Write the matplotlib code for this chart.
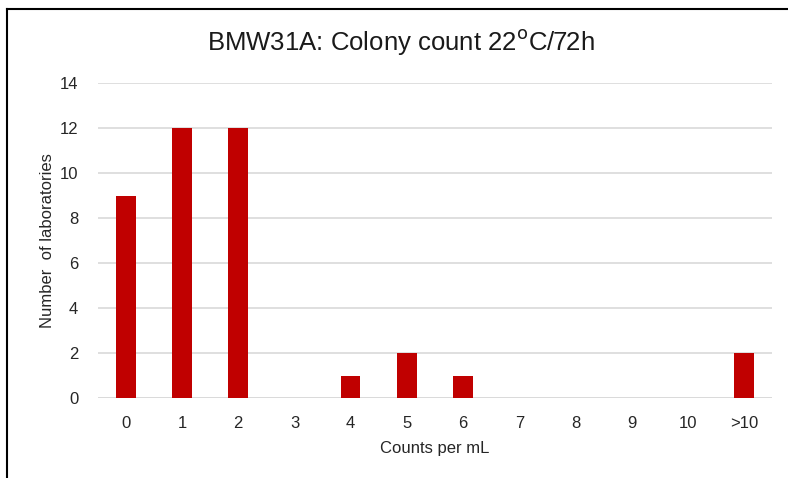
import matplotlib.pyplot as plt
from matplotlib.lines import Line2D

plt.rcParams["font.family"] = ["Liberation Sans", "DejaVu Sans"]

categories = ["0", "1", "2", "3", "4", "5", "6", "7", "8", "9", "10", ">10"]
labs = [9, 12, 12, 0, 1, 2, 1, 0, 0, 0, 0, 2]


def main():
    fig = plt.figure(figsize=(7.88, 4.78), dpi=100)
    ax = fig.add_axes([0.124, 0.167, 0.856, 0.659])

    x = range(len(categories))
    ax.bar(x, labs, width=0.35, color="#c00000", zorder=3)

    ax.set_xlim(-0.5, len(categories) - 0.5)
    ax.set_ylim(0, 14)
    ax.set_yticks(range(0, 15, 2))
    ax.set_xticks(list(x))
    ax.set_xticklabels(categories)
    ax.yaxis.grid(True, color="#d9d9d9", linewidth=1.2, zorder=0)
    ax.tick_params(length=0, labelsize=12, colors="#262626")
    ax.tick_params(axis="y", pad=14)
    ax.tick_params(axis="x", pad=13)
    for s in ax.spines.values():
        s.set_visible(False)
    ax.axhline(0, color="#d9d9d9", linewidth=1.2, zorder=2)

    ax.set_xlabel("Counts per mL", fontsize=12, color="#262626", labelpad=7)
    ax.set_ylabel("Number  of laboratories", fontsize=12, color="#262626", labelpad=3)
    fig.text(0.509, 0.912, "BMW31A: Colony count 22$^{\\mathrm{o}}$C/72h",
             ha="center", va="center", fontsize=18.5, color="#1a1a1a")

    # frame lines at left and top of the picture
    fig.add_artist(Line2D([0.009, 0.009], [0, 0.982], color="black", linewidth=1.5))
    fig.add_artist(Line2D([0.009, 1.0], [0.982, 0.982], color="black", linewidth=1.5))

    fig.savefig("out.png", dpi=100)
    plt.close(fig)


if __name__ == "__main__":
    main()
